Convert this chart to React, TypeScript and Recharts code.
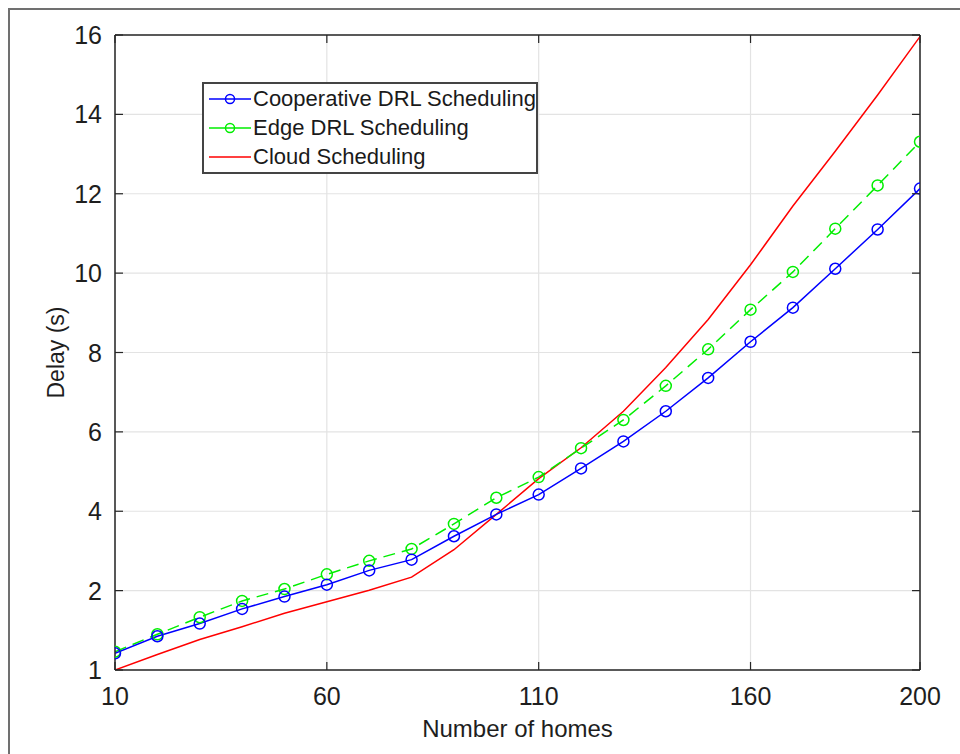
import React from 'react';
import { LineChart, Line, XAxis, YAxis, CartesianGrid, ReferenceLine, Legend } from 'recharts';

const homes = [10, 20, 30, 40, 50, 60, 70, 80, 90, 100, 110, 120, 130, 140, 150, 160, 170, 180, 190, 200];
const cooperativeDelay = [0.42, 0.85, 1.17, 1.54, 1.85, 2.15, 2.51, 2.78, 3.37, 3.92, 4.42, 5.08, 5.76, 6.52, 7.36, 8.27, 9.13, 10.11, 11.1, 12.13];
const edgeDelay = [0.46, 0.9, 1.33, 1.74, 2.04, 2.41, 2.75, 3.05, 3.68, 4.34, 4.86, 5.59, 6.3, 7.16, 8.08, 9.08, 10.03, 11.12, 12.21, 13.31];
const cloudDelay = [0.0, 0.39, 0.77, 1.09, 1.43, 1.72, 2.01, 2.34, 3.03, 3.92, 4.82, 5.6, 6.52, 7.62, 8.83, 10.21, 11.69, 13.07, 14.49, 15.96];

const xTicks = [10, 60, 110, 160, 200];
const yTicks = [0, 2, 4, 6, 8, 10, 12, 14, 16];
const yTickLabels = ['1', '2', '4', '6', '8', '10', '12', '14', '16'];
const seriesNames = ['Cooperative DRL Scheduling', 'Edge DRL Scheduling', 'Cloud Scheduling'];
const seriesColors = ['#0000ff', '#00ee00', '#ff0000'];

const data = homes.map((h, i) => ({
  homes: h,
  coop: cooperativeDelay[i],
  edge: edgeDelay[i],
  cloud: cloudDelay[i],
}));

const W = 960;
const H = 754;
const M = { top: 35, right: 40, left: 55, bottom: 14 };
const YW = 60;
const XH = 70;
const PLOT_L = M.left + YW; // 115
const PLOT_R = W - M.right; // 920
const PLOT_T = M.top; // 35
const PLOT_B = H - M.bottom - XH; // 670
const TICK = 8;
const AXIS = '#262626';
const FONT = '"Liberation Sans", Arial, Helvetica, sans-serif';

const XTick = (props: any) => {
  const { x, payload } = props;
  return (
    <g>
      <line x1={x} x2={x} y1={PLOT_B} y2={PLOT_B - TICK} stroke={AXIS} strokeWidth={1.2} />
      <line x1={x} x2={x} y1={PLOT_T} y2={PLOT_T + TICK} stroke={AXIS} strokeWidth={1.2} />
      <text x={x} y={PLOT_B + 35} textAnchor="middle" fontSize={25} fill="#1e1e1e" fontFamily={FONT}>
        {payload.value}
      </text>
    </g>
  );
};

const YTick = (props: any) => {
  const { y, payload } = props;
  const idx = yTicks.indexOf(payload.value);
  const label = idx >= 0 ? yTickLabels[idx] : String(payload.value);
  return (
    <g>
      <line x1={PLOT_L} x2={PLOT_L + TICK} y1={y} y2={y} stroke={AXIS} strokeWidth={1.2} />
      <line x1={PLOT_R} x2={PLOT_R - TICK} y1={y} y2={y} stroke={AXIS} strokeWidth={1.2} />
      <text x={PLOT_L - 13} y={y + 9} textAnchor="end" fontSize={25} fill="#1e1e1e" fontFamily={FONT}>
        {label}
      </text>
    </g>
  );
};

const LegendBox = () => {
  const rows = [0, 1, 2];
  return (
    <div
      style={{
        position: 'absolute',
        left: PLOT_L + 87,
        top: 82,
        width: 336,
        height: 92,
        boxSizing: 'border-box',
        border: '2px solid #444',
        background: '#fff',
        fontFamily: FONT,
      }}
    >
      {rows.map((i) => (
        <div
          key={i}
          style={{ position: 'absolute', left: 0, top: 1 + i * 29, height: 28, width: 330, lineHeight: '28px' }}
        >
          <svg width={46} height={28} style={{ position: 'absolute', left: 3, top: 0 }}>
            <line x1={2} x2={44} y1={14} y2={14} stroke={seriesColors[i]} strokeWidth={1.5} />
            {i < 2 ? <circle cx={23} cy={14} r={4.5} fill="none" stroke={seriesColors[i]} strokeWidth={1.5} /> : null}
          </svg>
          <span style={{ position: 'absolute', left: 49, top: 0, fontSize: 22, color: '#1a1a1a', whiteSpace: 'nowrap' }}>
            {seriesNames[i]}
          </span>
        </div>
      ))}
    </div>
  );
};

export default function App() {
  return (
    <div
      style={{
        position: 'fixed',
        left: 0,
        top: 0,
        width: W,
        height: H,
        overflow: 'hidden',
        background: '#fff',
        fontFamily: FONT,
      }}
    >
      <div
        style={{
          position: 'absolute',
          left: 8,
          top: 8,
          width: 980,
          height: 780,
          borderTop: '2px solid #707070',
          borderLeft: '2px solid #707070',
        }}
      />
      <div style={{ position: 'absolute', left: 0, top: 0 }}>
        <LineChart width={W} height={H} data={data} margin={M}>
          <CartesianGrid stroke="#e3e3e3" strokeWidth={1.2} />
          <XAxis
            dataKey="homes"
            type="number"
            domain={[10, 200]}
            ticks={xTicks}
            height={XH}
            tickSize={0}
            tickMargin={12}
            tick={<XTick />}
            axisLine={{ stroke: AXIS, strokeWidth: 1.5 }}
            tickLine={false}
            interval={0}
            allowDataOverflow
            label={{ value: 'Number of homes', position: 'insideBottom', offset: 3, fontSize: 24, fill: '#1e1e1e', fontFamily: FONT }}
          />
          <YAxis
            type="number"
            domain={[0, 16]}
            ticks={yTicks}
            width={YW}
            tickSize={0}
            tickMargin={12}
            tick={<YTick />}
            axisLine={{ stroke: AXIS, strokeWidth: 1.5 }}
            tickLine={false}
            interval={0}
            allowDataOverflow
            label={{ value: 'Delay (s)', angle: -90, position: 'insideLeft', offset: 1, textAnchor: 'middle', fontSize: 23, fill: '#1e1e1e', fontFamily: FONT }}
          />
          <ReferenceLine y={16} stroke={AXIS} strokeWidth={1.5} />
          <ReferenceLine x={200} stroke={AXIS} strokeWidth={1.5} />
          <Line
            type="linear"
            dataKey="cloud"
            name={seriesNames[2]}
            stroke={seriesColors[2]}
            strokeWidth={1.5}
            dot={false}
            isAnimationActive={false}
          />
          <Line
            type="linear"
            dataKey="edge"
            name={seriesNames[1]}
            stroke={seriesColors[1]}
            strokeWidth={1.5}
            strokeDasharray="12 7"
            dot={{ r: 5.5, fill: 'none', stroke: seriesColors[1], strokeWidth: 1.5, strokeDasharray: '' }}
            isAnimationActive={false}
          />
          <Line
            type="linear"
            dataKey="coop"
            name={seriesNames[0]}
            stroke={seriesColors[0]}
            strokeWidth={1.5}
            dot={{ r: 5.5, fill: 'none', stroke: seriesColors[0], strokeWidth: 1.5 }}
            isAnimationActive={false}
          />
          <Legend content={() => null} />
        </LineChart>
      </div>
      <LegendBox />
    </div>
  );
}
